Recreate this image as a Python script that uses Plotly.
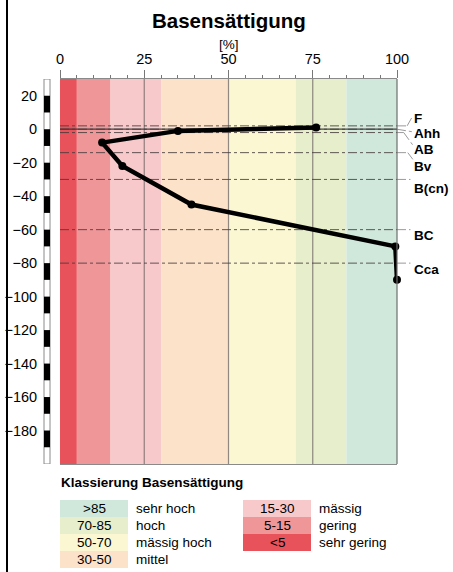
import plotly.graph_objects as go

# ---- data ----
bs_values = [76, 35, 12.5, 18.5, 39, 99.5, 100]
depths = [1, -1, -8, -22, -45, -70, -90]
horizon_names = ["F", "Ahh", "AB", "Bv", "B(cn)", "BC", "Cca"]
horizon_tops = [2, 0, -2, -14, -30, -60, -80]
class_edges = [0, 5, 15, 30, 50, 70, 85, 100]
class_colors = ["#e8525b", "#ef9699", "#f8c9cb", "#fde2ca", "#faf7d2", "#e6eecb", "#d0e8dc"]
class_ranges = ["<5", "5-15", "15-30", "30-50", "50-70", "70-85", ">85"]
class_names = ["sehr gering", "gering", "mässig", "mittel", "mässig hoch", "hoch", "sehr hoch"]
x_ticks = [0, 25, 50, 75, 100]
y_ticks = [20, 0, -20, -40, -60, -80, -100, -120, -140, -160, -180]

FONT = "Liberation Sans, Arial, Helvetica, sans-serif"
W, H = 453, 572
ML, MR, MT, MB = 60, 56, 79, 108
PW = W - ML - MR
PH = H - MT - MB
YMIN, YMAX = -200, 30


def px2x(px):
    return (px - ML) / PW


def px2y(py):
    return (MT + PH - py) / PH


fig = go.Figure()
fig.add_trace(go.Scatter(
    x=bs_values, y=depths, mode="lines+markers",
    line=dict(color="black", width=4.5),
    marker=dict(color="black", size=8),
    hoverinfo="skip", showlegend=False, cliponaxis=False,
))

shapes = []
# background classes
for i, c in enumerate(class_colors):
    shapes.append(dict(type="rect", xref="x", yref="paper", x0=class_edges[i], x1=class_edges[i + 1],
                       y0=0, y1=1, fillcolor=c, line=dict(width=0), layer="below"))
# vertical grid lines
for v in [25, 50, 75]:
    shapes.append(dict(type="line", xref="x", yref="paper", x0=v, x1=v, y0=0, y1=1,
                       line=dict(color="rgba(110,100,100,0.75)", width=1.2), layer="below"))
# zero line
shapes.append(dict(type="line", xref="paper", yref="y", x0=0, x1=1, y0=0, y1=0,
                   line=dict(color="rgba(50,50,50,0.9)", width=1.3), layer="below"))
# horizon lines
for t in horizon_tops:
    shapes.append(dict(type="line", xref="paper", yref="y", x0=0, x1=1, y0=t, y1=t,
                       line=dict(color="rgba(70,60,60,0.85)", width=1, dash="dashdot"), layer="below"))

# leader lines and labels (paper x beyond plot)
label_y = [6.6, -2.6, -12.4, -22.4, -35.5, -63.2, -84]
leaders = [
    [(1.0, 2), (1.03, 2), (1.047, 8)],
    [(1.0, 0), (1.045, -1.5)],
    [(1.0, -2), (1.02, -2), (1.047, -9.5)],
    [(1.0, -14), (1.032, -14), (1.047, -18)],
    [(1.0, -30), (1.04, -30)],
    [(1.0, -60), (1.04, -60)],
    [(1.0, -80), (1.04, -80)],
]
for pts in leaders:
    for (xa, ya), (xb, yb) in zip(pts[:-1], pts[1:]):
        shapes.append(dict(type="line", xref="paper", yref="y", x0=xa, x1=xb, y0=ya, y1=yb,
                           line=dict(color="#9a9a9a", width=1, dash="dashdot")))

# right plot border
shapes.append(dict(type="line", xref="paper", yref="paper", x0=1, x1=1, y0=0, y1=1,
                   line=dict(color="#6e6e6e", width=1.2)))

# depth scale bar
sx0, sx1 = px2x(44), px2x(50)
shapes.append(dict(type="rect", xref="paper", yref="y", x0=sx0, x1=sx1, y0=YMIN, y1=YMAX,
                   fillcolor="white", line=dict(color="#8a8a8a", width=1)))
for top in range(20, -190, -20):
    shapes.append(dict(type="rect", xref="paper", yref="y", x0=sx0, x1=sx1, y0=top - 10, y1=top,
                       fillcolor="black", line=dict(width=0)))

# page border line at left
shapes.append(dict(type="line", xref="paper", yref="paper", x0=px2x(7), x1=px2x(7),
                   y0=px2y(572), y1=px2y(0), line=dict(color="black", width=2)))

annotations = []
for name, ly in zip(horizon_names, label_y):
    annotations.append(dict(text="<b>%s</b>" % name, xref="paper", yref="y", x=px2x(412), y=ly,
                            xanchor="left", yanchor="middle", showarrow=False,
                            font=dict(family=FONT, size=13.5, color="black")))

annotations.append(dict(text="<b>Basensättigung</b>", xref="paper", yref="paper", x=0.5, y=px2y(21),
                        xanchor="center", yanchor="middle", showarrow=False,
                        font=dict(family=FONT, size=20.5, color="black")))
annotations.append(dict(text="[%]", xref="paper", yref="paper", x=0.5, y=px2y(44),
                        xanchor="center", yanchor="middle", showarrow=False,
                        font=dict(family=FONT, size=13.5, color="black")))

# legend
annotations.append(dict(text="<b>Klassierung Basensättigung</b>", xref="paper", yref="paper",
                        x=px2x(59), y=px2y(483), xanchor="left", yanchor="middle", showarrow=False,
                        font=dict(family=FONT, size=13.5, color="black")))
row_tops = [500, 517, 534, 551]
layout_cols = [
    (px2x(60), px2x(128), px2x(134), [6, 5, 4, 3]),
    (px2x(243), px2x(311), px2x(317), [2, 1, 0]),
]
for bx0, bx1, tx, idxs in layout_cols:
    for r, idx in enumerate(idxs):
        y_top = px2y(row_tops[r])
        y_bot = px2y(row_tops[r] + 17)
        shapes.append(dict(type="rect", xref="paper", yref="paper", x0=bx0, x1=bx1, y0=y_bot, y1=y_top,
                           fillcolor=class_colors[idx], line=dict(width=0)))
        annotations.append(dict(text=class_ranges[idx], xref="paper", yref="paper",
                                x=(bx0 + bx1) / 2, y=(y_top + y_bot) / 2, xanchor="center", yanchor="middle",
                                showarrow=False, font=dict(family=FONT, size=13.5, color="black")))
        annotations.append(dict(text=class_names[idx], xref="paper", yref="paper",
                                x=tx, y=(y_top + y_bot) / 2, xanchor="left", yanchor="middle",
                                showarrow=False, font=dict(family=FONT, size=13.5, color="black")))

fig.update_layout(
    width=W, height=H,
    margin=dict(l=ML, r=MR, t=MT, b=MB),
    paper_bgcolor="white", plot_bgcolor="white",
    font=dict(family=FONT, size=14, color="black"),
    shapes=shapes, annotations=annotations,
    xaxis=dict(side="top", range=[0, 100], tickvals=x_ticks, ticks="outside", ticklen=8,
               tickcolor="#777", tickwidth=1, showline=True, linecolor="#8a8a8a", linewidth=1,
               mirror=True, showgrid=False, zeroline=False, automargin=False,
               minor=dict(dtick=5, ticks="outside", ticklen=3, tickcolor="#777", showgrid=False),
               tickfont=dict(family=FONT, size=14.5, color="black")),
    yaxis=dict(range=[YMIN, YMAX], tickvals=y_ticks, ticks="outside", ticklen=19,
               tickcolor="rgba(0,0,0,0)", showline=False, showgrid=False, zeroline=False,
               automargin=False,
               tickfont=dict(family=FONT, size=14.5, color="black")),
)

fig.write_html("out.html")
